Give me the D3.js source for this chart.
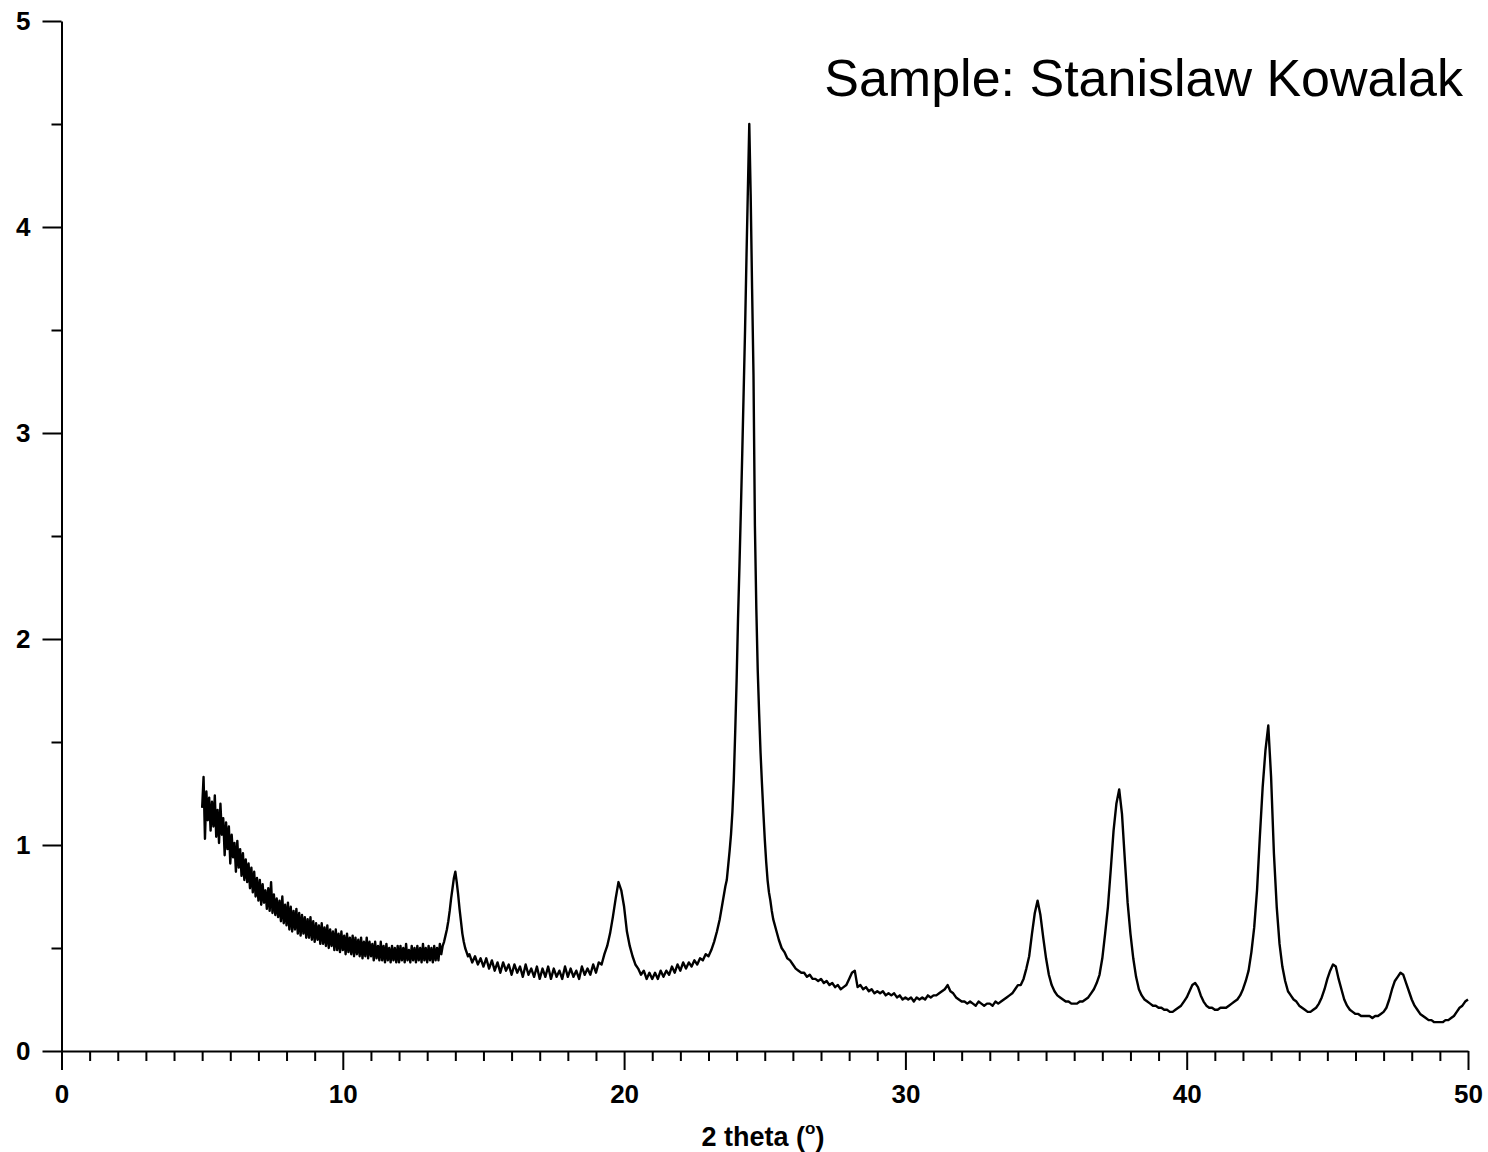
<!DOCTYPE html>
<html><head><meta charset="utf-8">
<script src="https://cdn.jsdelivr.net/npm/d3@7"></script>
<style>body{margin:0;background:#fff} svg{display:block}</style>
</head><body>
<svg id="chart" width="1488" height="1152"></svg>
<script>
// ---- tick labels ----
const xMajorTicks = [0, 10, 20, 30, 40, 50];
const xMinorTicks = [1,2,3,4,5,6,7,8,9,11,12,13,14,15,16,17,18,19,21,22,23,24,25,26,27,28,29,31,32,33,34,35,36,37,38,39,41,42,43,44,45,46,47,48,49];
const yMajorTicks = [0, 1, 2, 3, 4, 5];
const yMinorTicks = [0.5, 1.5, 2.5, 3.5, 4.5];
const sampleTitle = "Sample: Stanislaw Kowalak";
const xTitleMain = "2 theta (";
const xTitleSup = "o";
const xTitleEnd = ")";

const segA_start = 5.00, segA_step = 0.05;
const segA_intensity = [
 1.18,1.33,1.03,1.26,1.12,1.23,1.07,1.21,1.09,1.24,
 1.04,1.17,1.01,1.20,1.05,1.13,0.95,1.11,0.98,1.09,
 0.91,1.05,0.94,1.01,0.87,1.02,0.89,0.98,0.85,0.96,
 0.83,0.93,0.82,0.91,0.79,0.89,0.77,0.87,0.75,0.84,
 0.73,0.83,0.71,0.81,0.72,0.78,0.69,0.79,0.68,0.82,
 0.67,0.76,0.66,0.74,0.65,0.73,0.63,0.75,0.62,0.71,
 0.61,0.72,0.59,0.70,0.58,0.68,0.59,0.69,0.57,0.67,
 0.56,0.66,0.57,0.65,0.55,0.64,0.55,0.65,0.54,0.63,
 0.53,0.62,0.54,0.61,0.52,0.62,0.52,0.60,0.51,0.61,
 0.50,0.59,0.51,0.58,0.49,0.59,0.49,0.57,0.48,0.58,
 0.49,0.56,0.47,0.57,0.48,0.55,0.47,0.56,0.46,0.55,
 0.47,0.54,0.46,0.55,0.45,0.53,0.46,0.55,0.45,0.53,
 0.46,0.52,0.44,0.53,0.45,0.51,0.44,0.53,0.44,0.51,
 0.43,0.52,0.44,0.50,0.43,0.51,0.44,0.50,0.43,0.51,
 0.43,0.51,0.44,0.50,0.43,0.52,0.44,0.49,0.43,0.51,
 0.44,0.50,0.43,0.51,0.44,0.50,0.43,0.52,0.44,0.50,
 0.43,0.51,0.44,0.50,0.43,0.51,0.44,0.50,0.44,0.52,
 0.47,0.51,0.53,0.56,0.59,0.63,0.68,0.74,0.79,0.84,
 0.87,0.82,0.76,0.69,0.63,0.57,0.53,0.50,0.48,0.46,
 0.47
];
const segB_start = 14.6, segB_step = 0.1;
const segB_intensity = [
 0.43,0.46,0.42,0.45,0.41,0.45,0.40,0.44,0.39,0.43,
 0.38,0.43,0.39,0.42,0.37,0.42,0.38,0.41,0.36,0.42,
 0.37,0.40,0.36,0.41,0.35,0.40,0.36,0.41,0.35,0.40,
 0.36,0.39,0.35,0.41,0.36,0.40,0.36,0.39,0.35,0.41,
 0.37,0.40,0.37,0.42,0.38,0.43,0.42,0.47,0.51,0.57,
 0.65,0.74,0.82,0.78,0.70,0.58,0.51,0.46,0.42,0.40,
 0.37,0.39,0.35,0.38,0.35,0.38,0.35,0.39,0.36,0.39,
 0.37,0.41,0.38,0.42,0.39,0.43,0.40,0.43,0.41,0.44,
 0.42,0.45,0.44,0.47,0.46,0.49,0.53,0.58,0.64,0.72,
 0.80
];
const segC_start = 23.65, segC_step = 0.05;
const segC_intensity = [
 0.83,0.90,0.97,1.05,1.16,1.32,1.55,1.80,2.10,2.35,
 2.62,2.90,3.20,3.50,3.85,4.18,4.50,4.15,3.70,3.28,
 2.55,2.15,1.85,1.64,1.45,1.30,1.16,1.03,0.92,0.83,
 0.77,0.73,0.68,0.64
];
const segD_start = 25.4, segD_step = 0.1;
const segD_intensity = [
 0.59,0.54,0.50,0.48,0.45,0.44,0.42,0.40,0.39,0.38,
 0.38,0.36,0.37,0.35,0.35,0.34,0.35,0.33,0.34,0.32,
 0.33,0.31,0.32,0.30,0.31,0.32,0.35,0.38,0.39,0.31,
 0.32,0.30,0.31,0.29,0.30,0.28,0.29,0.28,0.29,0.27,
 0.28,0.27,0.28,0.26,0.27,0.25,0.26,0.25,0.26,0.24,
 0.26,0.25,0.26,0.25,0.27,0.26,0.27,0.27,0.28,0.29,
 0.30,0.32,0.29,0.28,0.26,0.25,0.24,0.24,0.23,0.24,
 0.23,0.22,0.24,0.23,0.22,0.23,0.23,0.22,0.24,0.23,
 0.24,0.25,0.26,0.27,0.28,0.30,0.32,0.32,0.35,0.40,
 0.46,0.57,0.67,0.73,0.66,0.55,0.45,0.37,0.32,0.29,
 0.27,0.26,0.25,0.24,0.24,0.23,0.23,0.23,0.24,0.24,
 0.25,0.26,0.28,0.30,0.33,0.37,0.45,0.57,0.70,0.88,
 1.07,1.20,1.27,1.15,0.93,0.72,0.57,0.45,0.36,0.30,
 0.27,0.25,0.24,0.23,0.22,0.22,0.21,0.21,0.20,0.20,
 0.19,0.19,0.20,0.21,0.22,0.24,0.26,0.29,0.32,0.33,
 0.31,0.27,0.24,0.22,0.21,0.21,0.20,0.20,0.21,0.21,
 0.21,0.22,0.23,0.24,0.25,0.27,0.30,0.34,0.39,0.48,
 0.60,0.78,1.04,1.28,1.46,1.58,1.33,0.96,0.70,0.52,
 0.41,0.34,0.29,0.27,0.25,0.24,0.22,0.21,0.20,0.19,
 0.19,0.20,0.21,0.23,0.26,0.30,0.35,0.39,0.42,0.41,
 0.35,0.30,0.25,0.22,0.20,0.19,0.18,0.18,0.17,0.17,
 0.17,0.17,0.16,0.17,0.17,0.18,0.19,0.21,0.25,0.30,
 0.34,0.36,0.38,0.37,0.33,0.29,0.25,0.22,0.20,0.18,
 0.17,0.16,0.15,0.15,0.14,0.14,0.14,0.14,0.15,0.15,
 0.16,0.17,0.19,0.21,0.22,0.24,0.25
];

const segments = [
  [segA_start, segA_step, segA_intensity],
  [segB_start, segB_step, segB_intensity],
  [segC_start, segC_step, segC_intensity],
  [segD_start, segD_step, segD_intensity]
];
const points = [];
segments.forEach(([s, st, vals]) => vals.forEach((v, i) => points.push([+(s + i * st).toFixed(3), v])));

// ---- layout ----
const svg = d3.select("#chart");
const x = d3.scaleLinear().domain([0, 50]).range([61.5, 1468]);
const y = d3.scaleLinear().domain([0, 5]).range([1051, 21]);
const FONT = "'Liberation Sans', Arial, Helvetica, sans-serif";

// x axis
svg.append("g").attr("transform", `translate(0,${y(0)})`)
  .call(d3.axisBottom(x).tickValues(xMajorTicks).tickSize(19).tickSizeOuter(0).tickPadding(15).tickFormat(d3.format("d")));
svg.append("g").attr("transform", `translate(0,${y(0)})`)
  .call(d3.axisBottom(x).tickValues(xMinorTicks).tickSize(10).tickSizeOuter(0).tickFormat(""))
  .select(".domain").remove();

// y axis
svg.append("g").attr("transform", `translate(${x(0)},0)`)
  .call(d3.axisLeft(y).tickValues(yMajorTicks).tickSize(19).tickSizeOuter(0).tickPadding(12).tickFormat(d3.format("d")));
svg.append("g").attr("transform", `translate(${x(0)},0)`)
  .call(d3.axisLeft(y).tickValues(yMinorTicks).tickSize(10).tickSizeOuter(0).tickFormat(""))
  .select(".domain").remove();

svg.selectAll(".domain, .tick line").attr("stroke", "#000").attr("stroke-width", 2);
svg.selectAll(".tick text").attr("font-family", FONT).attr("font-weight", "bold")
  .attr("font-size", 26).attr("fill", "#000");

// curve
svg.append("path").datum(points)
  .attr("fill", "none").attr("stroke", "#000").attr("stroke-width", 2.4)
  .attr("stroke-linejoin", "round")
  .attr("d", d3.line().x(d => x(d[0])).y(d => y(d[1])));

// title
svg.append("text").attr("x", 1463).attr("y", 96).attr("text-anchor", "end")
  .attr("font-family", FONT).attr("font-size", 52).attr("fill", "#000").text(sampleTitle);

// x axis title
const xt = svg.append("text").attr("x", 763).attr("y", 1146).attr("text-anchor", "middle")
  .attr("font-family", FONT).attr("font-weight", "bold").attr("font-size", 27).attr("fill", "#000");
xt.append("tspan").text(xTitleMain);
xt.append("tspan").attr("font-size", 17).attr("dy", -12).text(xTitleSup);
xt.append("tspan").attr("dy", 12).text(xTitleEnd);
</script>
</body></html>
